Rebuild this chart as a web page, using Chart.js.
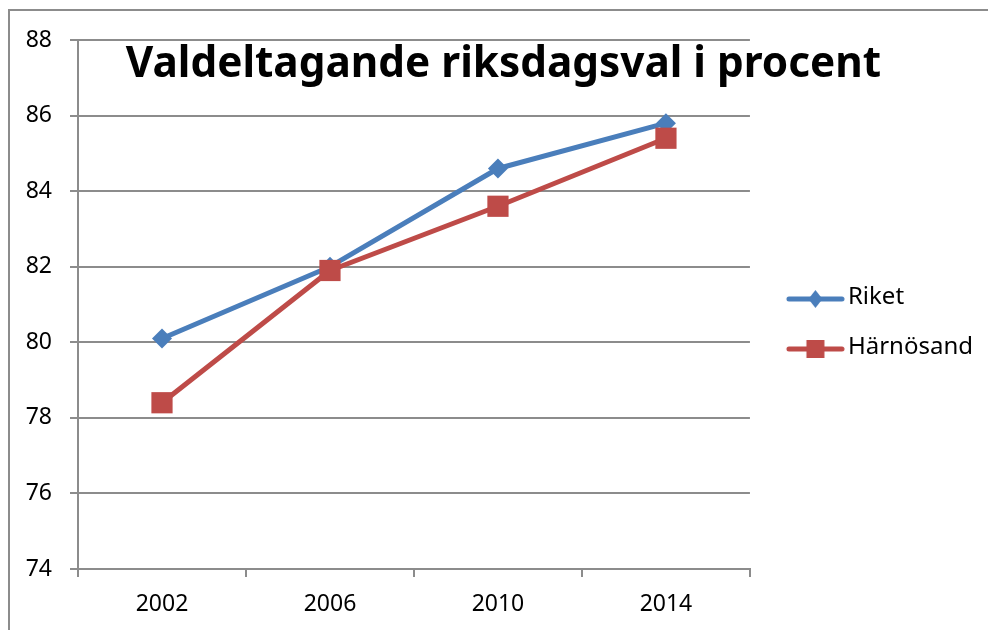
<!DOCTYPE html>
<html>
<head>
<meta charset="utf-8">
<script src="https://cdn.jsdelivr.net/npm/chart.js@4.4.0/dist/chart.umd.min.js"></script>
<style>
  html, body { margin: 0; padding: 0; background: #fff; overflow: hidden; }
  #wrap { position: relative; width: 988px; height: 630px; }
  #frame { position: absolute; left: 8px; top: 9px; width: 1200px; height: 1000px;
           border: 2px solid #8c8c8c; box-sizing: border-box; pointer-events: none; }
  #mycanvas { position: absolute; left: 0; top: 0; }
</style>
</head>
<body>
<div id="wrap">
  <div id="frame"></div>
  <canvas id="mycanvas" width="988" height="630"></canvas>
</div>
<script>
var years = ["2002", "2006", "2010", "2014"];
var riket = [80.1, 82.0, 84.6, 85.8];
var harnosand = [78.4, 81.9, 83.6, 85.4];
var seriesNames = ["Riket", "Härnösand"];
var chartTitle = "Valdeltagande riksdagsval i procent";

var blue = "#4a7ebb";
var red = "#be4b48";
var gridGrey = "#8c8c8c";
var font = "'Noto Sans', 'DejaVu Sans', sans-serif";

// legend symbol: short line with the marker in the middle
function legendSymbol(color, marker) {
  var c = document.createElement("canvas");
  c.width = 78;
  c.height = 24;
  var g = c.getContext("2d");
  g.strokeStyle = color;
  g.lineWidth = 5;
  g.lineCap = "round";
  g.beginPath();
  g.moveTo(22, 14);
  g.lineTo(75, 14);
  g.stroke();
  g.fillStyle = color;
  g.beginPath();
  if (marker == "diamond") {
    g.moveTo(48.5, 5);
    g.lineTo(55.5, 14);
    g.lineTo(48.5, 23);
    g.lineTo(41.5, 14);
  } else {
    g.rect(39.5, 5, 18, 18);
  }
  g.closePath();
  g.fill();
  return c;
}

var titlePlugin = {
  id: "overlayTitle",
  afterDraw: function(chart) {
    var ctx = chart.ctx;
    ctx.save();
    ctx.font = "bold 42.3px " + font;
    ctx.fillStyle = "#000";
    ctx.textAlign = "center";
    ctx.textBaseline = "alphabetic";
    ctx.fillText(chartTitle, 503.5, 77);
    ctx.restore();
  }
};

var chartdata = {
  labels: years,
  datasets: [
    {
      label: seriesNames[0],
      data: riket,
      borderColor: blue,
      backgroundColor: blue,
      borderWidth: 5,
      borderCapStyle: "round",
      borderJoinStyle: "round",
      pointStyle: "rectRot",
      pointRadius: 10,
      pointBorderWidth: 0,
      pointBackgroundColor: blue,
      fill: false,
      tension: 0,
      order: 1,
      legendImg: legendSymbol(blue, "diamond")
    },
    {
      label: seriesNames[1],
      data: harnosand,
      borderColor: red,
      backgroundColor: red,
      borderWidth: 5,
      borderCapStyle: "round",
      borderJoinStyle: "round",
      pointStyle: "rect",
      pointRadius: 15,
      pointBorderWidth: 0,
      pointBackgroundColor: red,
      fill: false,
      tension: 0,
      order: 0,
      legendImg: legendSymbol(red, "square")
    }
  ]
};

var ctx = document.getElementById("mycanvas");

var LineGraph = new Chart(ctx, {
  type: "line",
  data: chartdata,
  plugins: [titlePlugin],
  options: {
    responsive: false,
    animation: false,
    layout: { padding: { left: 8, top: 40, right: 5, bottom: 0 } },
    plugins: {
      tooltip: { enabled: false },
      title: { display: false },
      legend: {
        position: "right",
        align: "center",
        fullSize: false,
        // empty title only used as a spacer to push the items down
        title: { display: true, text: "", padding: { top: 23, bottom: 0 }, font: { size: 10 } },
        labels: {
          usePointStyle: true,
          pointStyleWidth: 60,
          padding: 26,
          color: "#000",
          font: { family: font, size: 24 },
          sort: function(a, b) { return a.datasetIndex - b.datasetIndex; },
          generateLabels: function(chart) {
            return chart.data.datasets.map(function(ds, i) {
              return {
                text: ds.label,
                pointStyle: ds.legendImg,
                fillStyle: ds.borderColor,
                strokeStyle: ds.borderColor,
                lineWidth: 0,
                hidden: false,
                datasetIndex: i,
                fontColor: "#000"
              };
            });
          }
        }
      }
    },
    scales: {
      x: {
        offset: true,
        afterFit: function(scale) { scale.height = 61; },
        grid: {
          offset: true,
          drawOnChartArea: false,
          drawTicks: true,
          tickLength: 8,
          color: gridGrey,
          lineWidth: 2
        },
        border: { color: gridGrey, width: 2 },
        ticks: {
          color: "#000",
          padding: 14,
          font: { family: font, size: 23 },
          maxRotation: 0
        }
      },
      y: {
        min: 74,
        max: 88,
        afterFit: function(scale) { scale.width = 70; },
        grid: {
          color: gridGrey,
          lineWidth: 2,
          drawTicks: true,
          tickLength: 8
        },
        border: { color: gridGrey, width: 2 },
        ticks: {
          stepSize: 2,
          color: "#000",
          padding: 18,
          font: { family: font, size: 23 }
        }
      }
    }
  }
});
</script>
</body>
</html>
